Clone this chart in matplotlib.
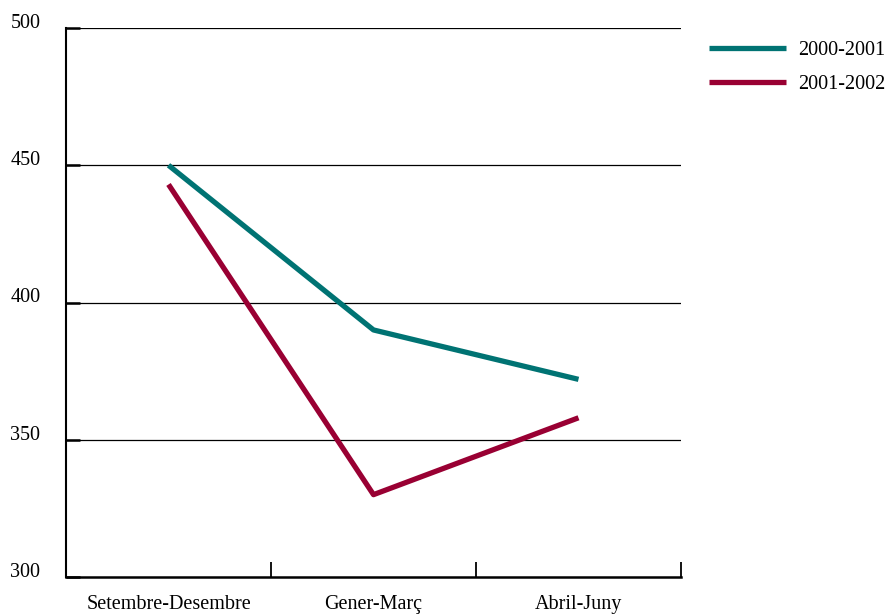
import matplotlib.pyplot as plt
from matplotlib.ticker import FixedLocator

periods = ["Setembre-Desembre", "Gener-Març", "Abril-Juny"]
series_names = ["2000-2001", "2001-2002"]
values_2000_2001 = [450, 390, 372]
values_2001_2002 = [443, 330, 358]
colors = ["#007373", "#990033"]
yticks = [300, 350, 400, 450, 500]

plt.rcParams["font.family"] = ["Liberation Serif", "DejaVu Serif"]
FS = 14.5

fig = plt.figure(figsize=(8.92, 6.14), dpi=100)
ax = fig.add_axes([66 / 892, 1 - 577 / 614, 615 / 892, 549 / 614])

xpos = [i + 0.5 for i in range(len(periods))]
for name, vals, col in zip(series_names, [values_2000_2001, values_2001_2002], colors):
    ax.plot(xpos, vals, color=col, lw=3.8, label=name, solid_capstyle="butt")

ax.set_xlim(0, len(periods))
ax.set_ylim(300, 500)
ax.set_yticks(yticks)
ax.set_yticklabels([str(v) for v in yticks], fontsize=FS)
for v in yticks[1:]:
    ax.axhline(v, color="black", lw=0.9, zorder=0)

ax.xaxis.set_major_locator(FixedLocator([1, 2, 3]))
ax.set_xticklabels([])
ax.xaxis.set_minor_locator(FixedLocator(xpos))
ax.set_xticklabels(periods, minor=True, fontsize=FS)
ax.tick_params(axis="x", which="minor", length=0, pad=13)
ax.tick_params(axis="x", which="major", direction="in", length=11, width=1.3)
ax.tick_params(axis="y", direction="in", length=10, width=1.8, pad=18.5)

for side in ["top", "right"]:
    ax.spines[side].set_visible(False)
ax.spines["left"].set_linewidth(1.5)
ax.spines["bottom"].set_linewidth(1.8)

for lbl in ax.get_yticklabels():
    lbl.set_verticalalignment("baseline")

fig.legend(loc="upper left", bbox_to_anchor=(691 / 892, 1 - 23 / 614),
           frameon=False, fontsize=FS, handlelength=3.8, handletextpad=0.6,
           labelspacing=0.72)

fig.savefig("out.png", dpi=100)
